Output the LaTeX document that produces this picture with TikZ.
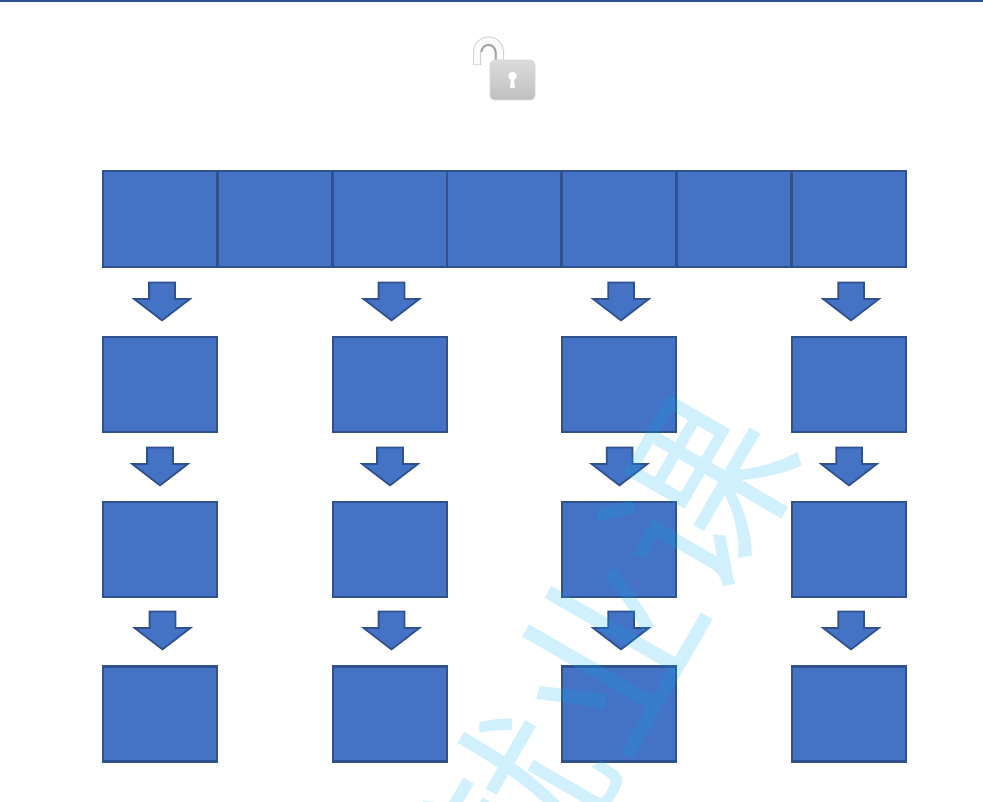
\documentclass[tikz,border=0pt]{standalone}
\usepackage{fontspec}
\usepackage{tikz}
\usetikzlibrary{shapes.arrows}
\usepackage{xcolor}
\newfontfamily\cjk{Noto Sans CJK SC}
\definecolor{boxfill}{RGB}{68,114,196}
\definecolor{boxline}{RGB}{47,82,143}
\definecolor{markcyan}{RGB}{0,176,240}
\tikzset{
    % Top strip
    cell/.style={rectangle, draw=boxline, fill=boxfill, line width=1.5pt,
                minimum width=2.294cm, minimum height=1.92cm},
    % Lower squares
    sqbox/.style={rectangle, draw=boxline, fill=boxfill, line width=1.5pt,
                minimum width=2.28cm, minimum height=1.9cm},
    % Block arrows, placed by the tip
    downarrow/.style={single arrow, shape border rotate=270, draw=boxline, fill=boxfill,
                line width=1pt, minimum width=1.08cm, minimum height=0.76cm,
                single arrow head extend=0.3cm, single arrow tip angle=105,
                inner ysep=0pt, inner xsep=0.24cm, anchor=tip},
    % Watermark
    wmark/.style={font=\cjk\fontsize{104}{104}\selectfont, text=markcyan, text opacity=0.19,
                rotate=60, inner sep=0pt},
}
\begin{document}
\begin{tikzpicture}
\clip (0,0) rectangle (19.66,16.02);
\fill[white] (0,0) rectangle (19.66,16.02);
\fill[boxline] (0,15.97) rectangle (19.66,16.02);

% Lock
\draw[gray!40, line width=0.16cm] (9.54,14.72) -- (9.54,14.98) arc (180:0:0.23) -- (10.0,14.80);
\draw[gray!3, line width=0.125cm] (9.54,14.73) -- (9.54,14.98) arc (180:0:0.23) -- (10.0,14.80);
\draw[gray!70, line width=0.04cm] (9.63,14.98) arc (180:0:0.14) -- (9.91,14.82);
\shade[top color=gray!28, bottom color=gray!50, rounded corners=2.5pt, draw=gray!30, line width=0.3pt]
    (9.8,14.02) rectangle (10.7,14.82);
\fill[white] (10.25,14.50) circle (0.085);
\fill[white] (10.225,14.48) -- (10.275,14.48) -- (10.30,14.26) -- (10.20,14.26) -- cycle;

% Top strip
\node[cell] (c1) at (3.207,11.64)  {};
\node[cell] (c2) at (5.501,11.64)  {};
\node[cell] (c3) at (7.795,11.64)  {};
\node[cell] (c4) at (10.089,11.64) {};
\node[cell] (c5) at (12.383,11.64) {};
\node[cell] (c6) at (14.677,11.64) {};
\node[cell] (c7) at (16.971,11.64) {};

% First row
\node[downarrow] (a11) at (3.24,9.59)  {};
\node[downarrow] (a12) at (7.83,9.59)  {};
\node[downarrow] (a13) at (12.42,9.59) {};
\node[downarrow] (a14) at (17.02,9.59) {};
\node[sqbox] (b11) at (3.2,8.33)   {};
\node[sqbox] (b12) at (7.8,8.33)   {};
\node[sqbox] (b13) at (12.38,8.33) {};
\node[sqbox] (b14) at (16.98,8.33) {};

% Second row
\node[downarrow] (a21) at (3.2,6.29)   {};
\node[downarrow] (a22) at (7.8,6.29)   {};
\node[downarrow] (a23) at (12.39,6.29) {};
\node[downarrow] (a24) at (16.98,6.29) {};
\node[sqbox] (b21) at (3.2,5.03)   {};
\node[sqbox] (b22) at (7.8,5.03)   {};
\node[sqbox] (b23) at (12.38,5.03) {};
\node[sqbox] (b24) at (16.98,5.03) {};

% Third row
\node[downarrow] (a31) at (3.25,3.01)  {};
\node[downarrow] (a32) at (7.83,3.01)  {};
\node[downarrow] (a33) at (12.42,3.01) {};
\node[downarrow] (a34) at (17.02,3.01) {};
\node[sqbox] (b31) at (3.2,1.74)   {};
\node[sqbox] (b32) at (7.8,1.74)   {};
\node[sqbox] (b33) at (12.38,1.74) {};
\node[sqbox] (b34) at (16.98,1.74) {};

% Watermark
\node[wmark] (mark) at (12.15,2.97) {就业课};
\end{tikzpicture}
\end{document}
